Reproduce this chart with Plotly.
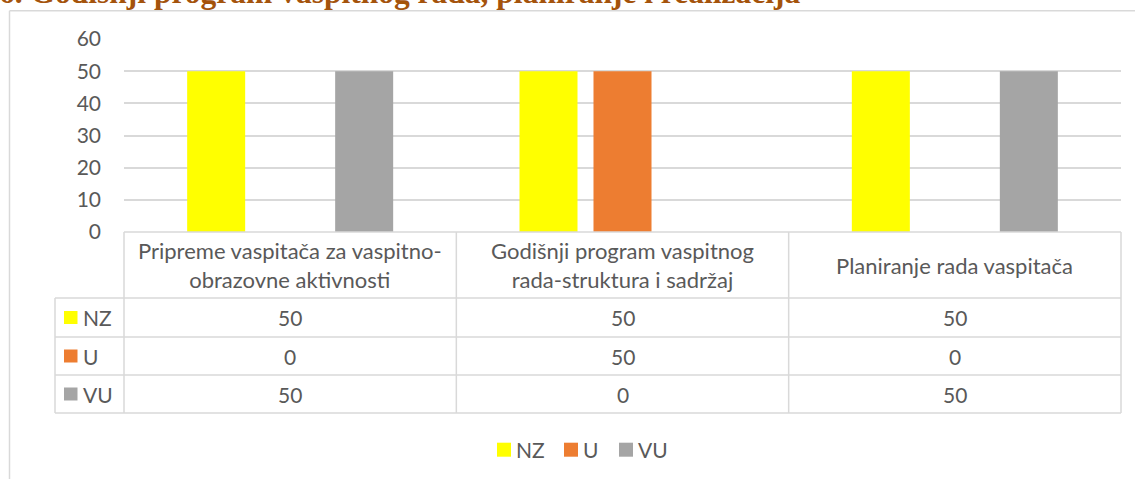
import textwrap
import plotly.graph_objects as go

# ---- data -------------------------------------------------------------
categories = [
    "Pripreme vaspitača za vaspitno-obrazovne aktivnosti",
    "Godišnji program vaspitnog rada-struktura i sadržaj",
    "Planiranje rada vaspitača",
]
series_names = ["NZ", "U", "VU"]
nz_values = [50, 50, 50]
u_values = [0, 50, 0]
vu_values = [50, 0, 50]
y_ticks = [0, 10, 20, 30, 40, 50, 60]
title_text = "6. Godišnji program vaspitnog rada, planiranje i realizacija"

series_values = [nz_values, u_values, vu_values]
series_colors = ["#FFFF00", "#ED7D31", "#A5A5A5"]

# ---- layout geometry (pixels) -----------------------------------------
W, H = 1135, 479
PL, PR, PT, PB = 124, 1121, 39, 232          # plot area box
ROW_LINES = [232, 298, 337, 375, 413]        # table horizontal rules
KEY_LEFT = 55                                # left edge of legend column
GRID = "#d9d9d9"
TXT = "#595959"
FONT = "Lato"
FS = 21          # numbers and series names
FS_HEAD = 22     # category headers


def px(x):
    return (x - PL) / (PR - PL)


def py(y):
    return (PB - y) / (PB - PT)


fig = go.Figure()
for name, vals, col in zip(series_names, series_values, series_colors):
    fig.add_trace(go.Bar(
        x=list(range(len(categories))), y=vals, name=name,
        marker=dict(color=col, line=dict(width=0)),
        showlegend=False, hoverinfo="skip",
    ))

shapes = []
annotations = []


def hline(x0, x1, y, color=GRID, w=1.5):
    shapes.append(dict(type="line", xref="paper", yref="paper",
                       x0=px(x0), x1=px(x1), y0=py(y), y1=py(y),
                       line=dict(color=color, width=w)))


def vline(x, y0, y1, color=GRID, w=1.5):
    shapes.append(dict(type="line", xref="paper", yref="paper",
                       x0=px(x), x1=px(x), y0=py(y0), y1=py(y1),
                       line=dict(color=color, width=w)))


# outer chart frame (left and top edges)
hline(9.5, W + 5, 10.7)
vline(9.5, 10.7, H + 5)

# data table grid
n = len(categories)
col_w = (PR - PL) / n
hline(PL, PR, ROW_LINES[0])
for y in ROW_LINES[1:]:
    hline(KEY_LEFT, PR, y)
vline(KEY_LEFT, ROW_LINES[1], ROW_LINES[-1])
for i in range(n + 1):
    vline(PL + i * col_w, ROW_LINES[0], ROW_LINES[-1])

# category headers
for i, cat in enumerate(categories):
    lines = textwrap.wrap(cat, width=31)
    annotations.append(dict(
        x=i, xref="x", y=py((ROW_LINES[0] + ROW_LINES[1]) / 2), yref="paper",
        text="<br>".join(lines), showarrow=False, align="center",
        xanchor="center", yanchor="middle",
        font=dict(family=FONT, size=FS_HEAD, color=TXT)))

# table rows: key + values
for r, (name, vals, col) in enumerate(zip(series_names, series_values, series_colors)):
    yc = (ROW_LINES[r + 1] + ROW_LINES[r + 2]) / 2
    shapes.append(dict(type="rect", xref="paper", yref="paper",
                       x0=px(64), x1=px(77.5), y0=py(yc - 6.5), y1=py(yc + 6.5),
                       fillcolor=col, line=dict(width=0)))
    annotations.append(dict(
        x=px(81), xref="paper", y=py(yc), yref="paper", text=name,
        showarrow=False, xanchor="left", yanchor="middle",
        font=dict(family=FONT, size=FS, color=TXT)))
    for i, v in enumerate(vals):
        annotations.append(dict(
            x=i, xref="x", y=py(yc), yref="paper", text=str(v),
            showarrow=False, xanchor="center", yanchor="middle",
            font=dict(family=FONT, size=FS, color=TXT)))

# bottom legend
legend_x = [497, 564, 619]
legend_y = 449.7
for name, col, lx in zip(series_names, series_colors, legend_x):
    shapes.append(dict(type="rect", xref="paper", yref="paper",
                       x0=px(lx), x1=px(lx + 14), y0=py(legend_y - 7), y1=py(legend_y + 7),
                       fillcolor=col, line=dict(width=0)))
    annotations.append(dict(
        x=px(lx + 17), xref="paper", y=py(legend_y), yref="paper", text=name,
        showarrow=False, xanchor="left", yanchor="middle",
        font=dict(family=FONT, size=FS, color=TXT)))

# heading above the chart frame
annotations.append(dict(
    x=px(-3), xref="paper", y=py(12), yref="paper", text="<b>" + title_text + "</b>",
    showarrow=False, xanchor="left", yanchor="bottom",
    font=dict(family="Liberation Serif", size=31.5, color="#A4530C")))

fig.update_layout(
    width=W, height=H, autosize=False,
    margin=dict(l=PL, r=W - PR, t=PT, b=H - PB, pad=0),
    paper_bgcolor="white", plot_bgcolor="white",
    barmode="group", bargap=0.332, bargroupgap=0.216,
    shapes=shapes, annotations=annotations,
    xaxis=dict(range=[-0.5, n - 0.5], showticklabels=False, showgrid=False,
               zeroline=False, showline=False, ticks=""),
    yaxis=dict(range=[0, 60], tickvals=y_ticks, showgrid=True, gridcolor=GRID,
               gridwidth=1.5, zeroline=False, showline=False, ticks="",
               ticklabelstandoff=22,
               tickfont=dict(family=FONT, size=FS, color=TXT)),
)

fig.write_html("out.html")
